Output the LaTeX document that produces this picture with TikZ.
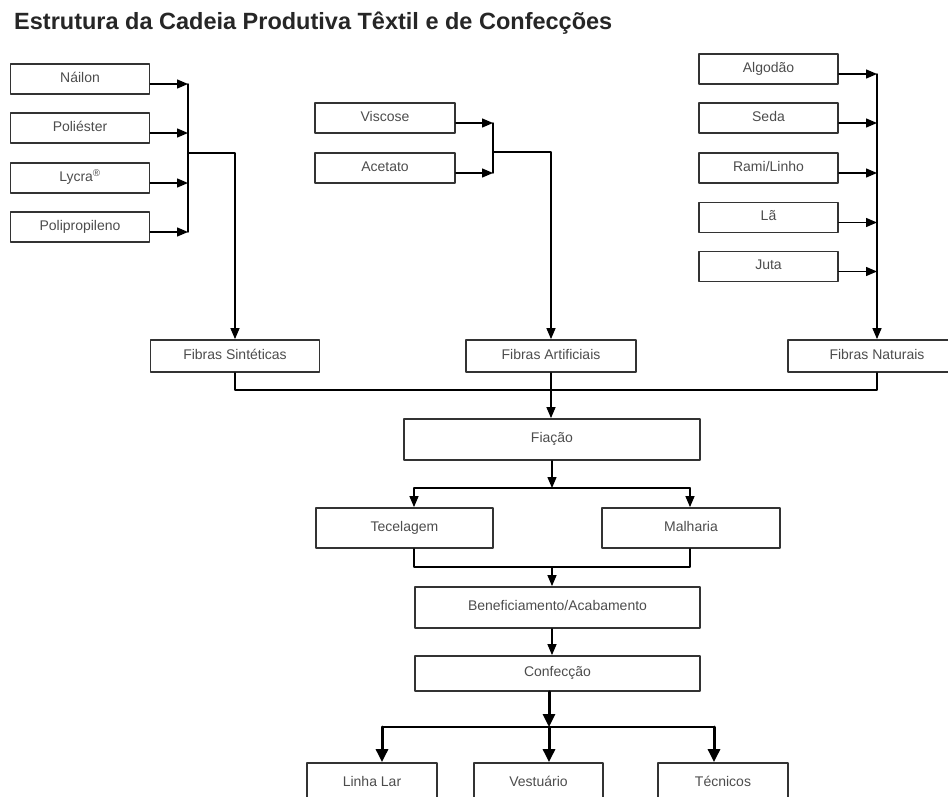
\documentclass[tikz,border=0pt]{standalone}
\usepackage{fontspec}
\setmainfont{Liberation Sans}
\usetikzlibrary{arrows.meta}
\begin{document}
\begin{tikzpicture}[font=\fontsize{14}{16}\selectfont, line join=round, line cap=round, >={Triangle[length=11pt,width=9pt]}, x=1pt, y=-1pt,
  caixa/.style={draw=black!80, line width=1.8pt, text=black!70, minimum height=30, text height=9.5, text depth=3, inner sep=0pt},
  liga/.style={line width=1.4pt},
  grossa/.style={line width=3pt, >={Triangle[length=13pt,width=12pt]}}]
\clip (0,0) rectangle (948,796);
\node[anchor=base west, inner sep=0pt, font=\fontsize{23.5}{26}\selectfont\bfseries, text=black!85] (titulo) at (14,29.5) {Estrutura da Cadeia Produtiva Têxtil e de Confecções};
\foreach \n/\t/\y in {nai/Náilon/79, pol/Poliéster/128, ly/Lycra\textsuperscript{®}/178, pp/Polipropileno/227}{\node[caixa, minimum width=139] (\n) at (80,\y) {\t};}
\foreach \n/\t/\y in {vis/Viscose/118, ace/Acetato/168}{\node[caixa, minimum width=140] (\n) at (385,\y) {\t};}
\foreach \n/\t/\y in {alg/Algodão/69, sed/Seda/118, ram/{Rami/Linho}/168, la/Lã/217.5, jut/Juta/266.5}{\node[caixa, minimum width=139] (\n) at (768.5,\y) {\t};}
\node[caixa, minimum width=169, minimum height=32] (sin) at (235,356) {Fibras Sintéticas};
\node[caixa, minimum width=170, minimum height=32] (art) at (551,356) {Fibras Artificiais};
\node[caixa, minimum width=178, minimum height=32] (nat) at (877,356) {Fibras Naturais};
\node[caixa, minimum width=296, minimum height=41] (fia) at (552,439.5) {Fiação};
\node[caixa, minimum width=177, minimum height=40] (tec) at (404.5,528) {Tecelagem};
\node[caixa, minimum width=178, minimum height=40] (mal) at (691,528) {Malharia};
\node[caixa, minimum width=285, minimum height=41] (ben) at (557.5,607.5) {Beneficiamento/Acabamento};
\node[caixa, minimum width=285, minimum height=35] (con) at (557.5,673.5) {Confecção};
\node[caixa, minimum width=130, minimum height=40] (lar) at (372,783) {Linha Lar};
\node[caixa, minimum width=129, minimum height=40] (ves) at (538.5,783) {Vestuário};
\node[caixa, minimum width=130, minimum height=40] (tcn) at (723,783) {Técnicos};
\coordinate (bS) at (188,153);
\coordinate (bA) at (493,152);
\coordinate (bN) at (877,74);
\coordinate (bF) at (551,390);
\coordinate (jF) at (552,488);
\coordinate (jT) at (414,488);
\coordinate (jM) at (690,488);
\coordinate (jB) at (552,567);
\coordinate (jC) at (549,727);
\coordinate (jL) at (382,727);
\coordinate (jR) at (714,727);
\draw[liga] ([yshift=-5pt]nai.east -| bS) -- ([yshift=-5pt]pp.east -| bS);
\foreach \n in {nai,pol,ly,pp}{\draw[liga,->] ([yshift=-5pt]\n.east) -- ([yshift=-5pt]\n.east -| bS);}
\draw[liga,->] (bS) -| (sin.north);
\draw[liga] ([yshift=-5pt]vis.east -| bA) -- ([yshift=-5pt]ace.east -| bA);
\foreach \n in {vis,ace}{\draw[liga,->] ([yshift=-5pt]\n.east) -- ([yshift=-5pt]\n.east -| bA);}
\draw[liga,->] (bA) -| (art.north);
\foreach \n in {alg,sed,ram,la,jut}{\draw[liga,->] ([yshift=-5pt]\n.east) -- ([yshift=-5pt]\n.east -| bN);}
\draw[liga,->] (bN) -- (nat.north);
\draw[liga] (sin.south) -- (sin.south |- bF) -- (nat.south |- bF) -- (nat.south);
\draw[liga,->] (art.south) -- (art.south |- fia.north);
\draw[liga,->] (fia.south) -- (jF);
\draw[liga] (jT) -- (jM);
\draw[liga,->] (jT) -- (jT |- tec.north);
\draw[liga,->] (jM) -- (jM |- mal.north);
\draw[liga] (jT |- tec.south) |- (jB) -| (jM |- mal.south);
\draw[liga,->] (jB) -- (jB |- ben.north);
\draw[liga,->] (jB |- ben.south) -- (jB |- con.north);
\draw[grossa,->] (jC |- con.south) -- (jC);
\draw[line width=2pt] (jL) -- (jR);
\foreach \c/\n in {jL/lar, jC/ves, jR/tcn}{\draw[grossa,->] (\c) -- (\c |- \n.north);}
\end{tikzpicture}
\end{document}
